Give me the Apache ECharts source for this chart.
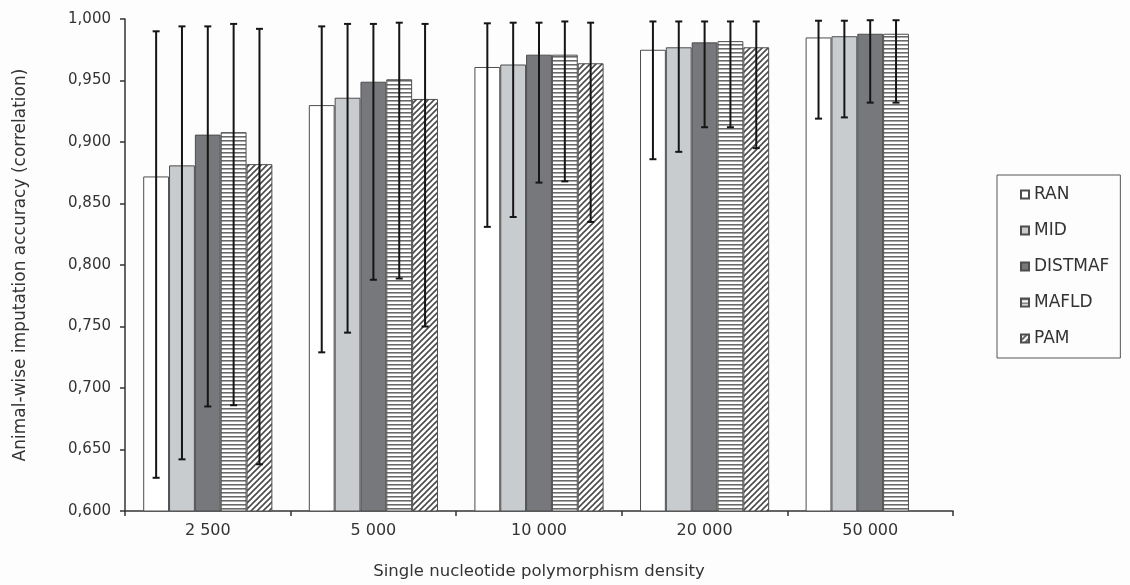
<!DOCTYPE html>
<html>
<head>
<meta charset="utf-8">
<script src="https://cdn.jsdelivr.net/npm/echarts@6/dist/echarts.min.js"></script>
<style>
html,body{margin:0;padding:0;background:#fdfdfd;}
#c{width:1130px;height:585px;}
</style>
</head>
<body>
<div id="c"></div>
<script>
// ---- data ----
const categories = ['2 500', '5 000', '10 000', '20 000', '50 000'];
const seriesNames = ['RAN', 'MID', 'DISTMAF', 'MAFLD', 'PAM'];
const RAN     = [0.872, 0.930, 0.961, 0.975, 0.985];
const MID     = [0.881, 0.936, 0.963, 0.977, 0.986];
const DISTMAF = [0.906, 0.949, 0.971, 0.981, 0.988];
const MAFLD   = [0.908, 0.951, 0.971, 0.982, 0.988];
const PAM     = [0.882, 0.935, 0.964, 0.977, null];

const RAN_low     = [0.627, 0.729, 0.831, 0.886, 0.919];
const MID_low     = [0.642, 0.745, 0.839, 0.892, 0.920];
const DISTMAF_low = [0.685, 0.788, 0.867, 0.912, 0.932];
const MAFLD_low   = [0.686, 0.789, 0.868, 0.912, 0.932];
const PAM_low     = [0.638, 0.750, 0.835, 0.895, null];

const RAN_high     = [0.990, 0.994, 0.9965, 0.998, 0.9986];
const MID_high     = [0.994, 0.996, 0.997, 0.998, 0.9986];
const DISTMAF_high = [0.994, 0.996, 0.997, 0.998, 0.999];
const MAFLD_high   = [0.996, 0.997, 0.998, 0.998, 0.999];
const PAM_high     = [0.992, 0.996, 0.997, 0.998, null];

const yTicks = [0.600, 0.650, 0.700, 0.750, 0.800, 0.850, 0.900, 0.950, 1.000];

// ---- patterns ----
function stripePattern() {
  const c = document.createElement('canvas');
  c.width = 4; c.height = 4;
  const g = c.getContext('2d');
  g.fillStyle = '#ffffff'; g.fillRect(0, 0, 4, 4);
  g.fillStyle = '#6a6a6a'; g.fillRect(0, 0, 4, 1);
  g.fillStyle = '#a8a8a8'; g.fillRect(0, 1, 4, 1);
  return c;
}
function hatchPattern() {
  const s = 6;
  const c = document.createElement('canvas');
  c.width = s; c.height = s;
  const g = c.getContext('2d');
  g.fillStyle = '#ffffff'; g.fillRect(0, 0, s, s);
  g.strokeStyle = '#4a4a4a'; g.lineWidth = 1.6;
  g.beginPath();
  g.moveTo(-1, s + 1); g.lineTo(s + 1, -1);
  g.moveTo(-1, 1); g.lineTo(1, -1);
  g.moveTo(s - 1, s + 1); g.lineTo(s + 1, s - 1);
  g.stroke();
  return c;
}

const values = [RAN, MID, DISTMAF, MAFLD, PAM];
const lows = [RAN_low, MID_low, DISTMAF_low, MAFLD_low, PAM_low];
const highs = [RAN_high, MID_high, DISTMAF_high, MAFLD_high, PAM_high];
const fills = [
  '#ffffff',
  '#c9cccf',
  '#77787c',
  { image: stripePattern(), repeat: 'repeat' },
  { image: hatchPattern(), repeat: 'repeat' }
];

const GAP = 0.22;
const N = seriesNames.length;
const FONT = 'DejaVu Sans, Liberation Sans, Arial, sans-serif';

const series = [];
seriesNames.forEach((name, i) => {
  series.push({
    name: name,
    type: 'bar',
    data: values[i].map(v => v == null ? '-' : v),
    barGap: '0%',
    barCategoryGap: (GAP * 100) + '%',
    itemStyle: { color: fills[i], borderColor: '#4d4d4d', borderWidth: 1 },
    emphasis: { disabled: true },
    z: 2
  });
});
seriesNames.forEach((name, i) => {
  const data = [];
  categories.forEach((c, j) => {
    if (lows[i][j] != null) data.push([j, lows[i][j], highs[i][j]]);
  });
  series.push({
    name: name + ' error',
    type: 'custom',
    z: 5,
    silent: true,
    data: data,
    renderItem: function (params, api) {
      const j = api.value(0);
      const lo = api.coord([j, api.value(1)]);
      const hi = api.coord([j, api.value(2)]);
      const band = api.size([1, 0])[0];
      const bw = band * (1 - GAP) / N;
      const x = lo[0] + (i - (N - 1) / 2) * bw;
      const cap = 3.5;
      const st = { stroke: '#151515', lineWidth: 2 };
      return {
        type: 'group',
        children: [
          { type: 'line', shape: { x1: x, y1: hi[1], x2: x, y2: lo[1] }, style: st },
          { type: 'line', shape: { x1: x - cap, y1: hi[1], x2: x + cap, y2: hi[1] }, style: st },
          { type: 'line', shape: { x1: x - cap, y1: lo[1], x2: x + cap, y2: lo[1] }, style: st }
        ]
      };
    }
  });
});

const chart = echarts.init(document.getElementById('c'));
chart.setOption({
  backgroundColor: '#fdfdfd',
  animation: false,
  textStyle: { fontFamily: FONT },
  grid: { left: 125, right: 177, top: 19, bottom: 73, containLabel: false },
  legend: {
    data: seriesNames,
    orient: 'vertical',
    left: 997,
    top: 175,
    itemWidth: 8,
    itemHeight: 8,
    itemGap: 19,
    icon: 'rect',
    borderColor: '#555',
    borderWidth: 1,
    padding: [11, 11, 11, 23],
    textStyle: { fontSize: 17, color: '#333', fontFamily: FONT, padding: [0, 0, 0, 0] },
    selectedMode: false
  },
  xAxis: {
    type: 'category',
    data: categories,
    name: 'Single nucleotide polymorphism density',
    nameLocation: 'middle',
    nameGap: 52,
    nameTextStyle: { fontSize: 16.5, color: '#333', fontFamily: FONT },
    axisLine: { lineStyle: { color: '#333', width: 1.5 } },
    axisTick: { show: true, length: 5, lineStyle: { color: '#333', width: 1.5 } },
    axisLabel: { fontSize: 16, color: '#333', margin: 12, fontFamily: FONT },
    splitLine: { show: false }
  },
  yAxis: {
    type: 'value',
    min: yTicks[0],
    max: yTicks[yTicks.length - 1],
    interval: 0.05,
    name: 'Animal-wise imputation accuracy (correlation)',
    nameLocation: 'middle',
    nameGap: 96,
    nameRotate: 90,
    nameTextStyle: { fontSize: 17, color: '#333', fontFamily: FONT },
    axisLine: { show: true, lineStyle: { color: '#333', width: 1.5 } },
    axisTick: { show: true, length: 5, lineStyle: { color: '#333', width: 1.5 } },
    axisLabel: { fontSize: 15, color: '#333', margin: 14, fontFamily: FONT,
      formatter: v => v.toFixed(3).replace('.', ',') },
    splitLine: { show: false }
  },
  series: series
});
</script>
</body>
</html>
